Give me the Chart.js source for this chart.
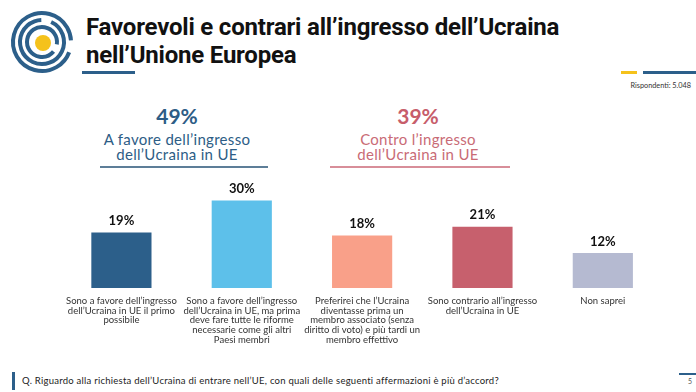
<!DOCTYPE html>
<html>
<head>
<meta charset="utf-8">
<script src="https://cdn.jsdelivr.net/npm/chart.js@4.4.1/dist/chart.umd.min.js"></script>
<style>
  body { margin:0; width:696px; height:392px; background:#fff; position:relative; overflow:hidden; font-family:Lato, sans-serif; }
  .abs { position:absolute; }
  .title { left:86px; top:13px; font-family:Roboto, sans-serif; font-weight:700; font-size:24px; line-height:28px; color:#111; letter-spacing:-0.2px; }
  .head { text-align:center; width:200px; }
  .head .pct { font-weight:700; font-size:21px; line-height:24px; }
  .head .sub { font-size:15px; line-height:15px; margin-top:4px; letter-spacing:0.3px; }
</style>
</head>
<body>
<svg class="abs" style="left:0;top:0" width="80" height="80">
  <g fill="none" stroke="#2C5F8A" stroke-width="4" stroke-linecap="butt">
    <circle cx="42" cy="42" r="29" stroke-dasharray="150 12 20 200" transform="rotate(60 42 42)"/>
    <circle cx="42" cy="42" r="22" stroke-dasharray="110 10 18 200" transform="rotate(-20 42 42)"/>
    <circle cx="42" cy="42" r="15" stroke-dasharray="70 8 20 200" transform="rotate(100 42 42)"/>
  </g>
  <circle cx="43" cy="43" r="8" fill="#F5C21B"/>
</svg>
<div class="abs title">Favorevoli e contrari all’ingresso dell’Ucraina<br>nell’Unione Europea</div>
<div class="abs" style="left:82px;top:71px;width:53px;height:3px;background:#2C5F8A"></div>

<div class="abs" style="left:621px;top:71px;width:16px;height:3px;background:#F5C21B"></div>
<div class="abs" style="left:643px;top:71px;width:53px;height:3px;background:#2C5F8A"></div>
<div class="abs" style="right:5px;top:81px;font-size:7.3px;color:#333">Rispondenti: 5.048</div>

<div class="abs head" style="left:77px;top:104px">
  <div class="pct" style="color:#2D5D86">49%</div>
  <div class="sub" style="color:#2D5D86">A favore dell’ingresso<br>dell’Ucraina in UE</div>
</div>
<div class="abs" style="left:100px;top:166px;width:168px;height:2px;background:#5D7E98"></div>

<div class="abs head" style="left:318px;top:104px">
  <div class="pct" style="color:#C75D6A">39%</div>
  <div class="sub" style="color:#C96B76">Contro l’ingresso<br>dell’Ucraina in UE</div>
</div>
<div class="abs" style="left:330px;top:166px;width:180px;height:2px;background:#D88E99"></div>

<div class="abs" style="left:58px;top:177px;width:605px;height:180px">
  <canvas id="myBarChart"></canvas>
</div>

<div class="abs" style="left:12px;top:372px;width:3px;height:18px;background:#2C5F8A"></div>
<div class="abs" style="left:22px;top:375px;font-size:9.5px;letter-spacing:0.25px;color:#222">Q. Riguardo alla richiesta dell’Ucraina di entrare nell’UE, con quali delle seguenti affermazioni è più d’accord?</div>
<div class="abs" style="left:679px;top:373px;width:17px;height:2px;background:#2C5F8A"></div>
<div class="abs" style="left:688px;top:377px;font-size:7px;color:#555">5</div>

<script>
var categories = [
  ['Sono a favore dell’ingresso', 'dell’Ucraina in UE il primo', 'possibile'],
  ['Sono a favore dell’ingresso', 'dell’Ucraina in UE, ma prima', 'deve fare tutte le riforme', 'necessarie come gli altri', 'Paesi membri'],
  ['Preferirei che l’Ucraina', 'diventasse prima un', 'membro associato (senza', 'diritto di voto) e più tardi un', 'membro effettivo'],
  ['Sono contrario all’ingresso', 'dell’Ucraina in UE'],
  ['Non saprei']
];
var values = [19, 30, 18, 21, 12];
var barColors = ['#2C5F8A', '#5DC0EA', '#F9A089', '#C7606D', '#B5BAD1'];

// value labels above the bars
var topLabels = {
  id: 'topLabels',
  afterDatasetsDraw: function(chart) {
    var ctx = chart.ctx;
    var meta = chart.getDatasetMeta(0);
    ctx.save();
    ctx.font = 'bold 13px Lato';
    ctx.fillStyle = '#111';
    ctx.textAlign = 'center';
    ctx.textBaseline = 'bottom';
    meta.data.forEach(function(bar, i) {
      ctx.fillText(values[i] + '%', bar.x, bar.y - 5);
    });
    ctx.restore();
  }
};

var ctx = document.getElementById('myBarChart').getContext('2d');
var myChart = new Chart(ctx, {
  type: 'bar',
  data: {
    labels: categories,
    datasets: [{
      data: values,
      backgroundColor: barColors,
      barPercentage: 0.5,
      categoryPercentage: 1
    }]
  },
  options: {
    responsive: true,
    maintainAspectRatio: false,
    animation: false,
    layout: { padding: { top: 6, bottom: 4.5, left: 0, right: 0 } },
    scales: {
      x: {
        grid: { display: false, drawTicks: false },
        border: { display: false },
        ticks: {
          color: '#333',
          font: { family: 'Lato', size: 9.5, lineHeight: 1.02 },
          padding: 8,
          maxRotation: 0,
          autoSkip: false
        }
      },
      y: {
        display: false,
        min: 0,
        max: 36
      }
    },
    plugins: {
      legend: { display: false },
      tooltip: { enabled: false }
    }
  },
  plugins: [topLabels]
});
</script>
</body>
</html>
